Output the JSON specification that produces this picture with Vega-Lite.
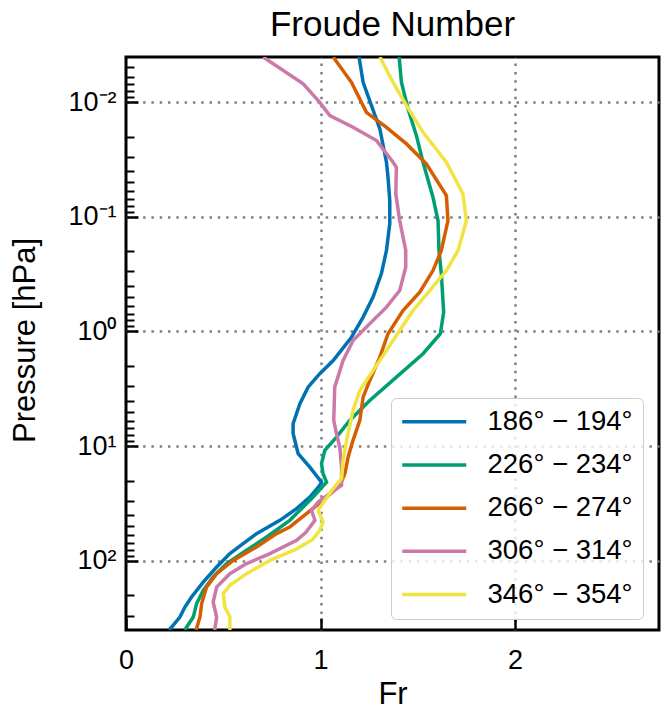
{
  "$schema": "https://vega.github.io/schema/vega-lite/v6.json",
  "autosize": {"type": "none"},
  "padding": {"left": 126, "top": 57, "right": 2, "bottom": 87},
  "width": 533,
  "height": 573,
  "background": "white",
  "title": {
    "text": "Froude Number",
    "font": "Liberation Sans",
    "fontSize": 35,
    "fontWeight": "normal",
    "color": "black",
    "anchor": "middle",
    "offset": 10
  },
  "config": {
    "view": {"stroke": "black", "strokeWidth": 3},
    "font": "Liberation Sans"
  },
  "datasets": {
    "profiles": [
      {"band": "186° − 194°", "fr": 1.198, "p": 0.00405},
      {"band": "186° − 194°", "fr": 1.219, "p": 0.00673},
      {"band": "186° − 194°", "fr": 1.262, "p": 0.01074},
      {"band": "186° − 194°", "fr": 1.305, "p": 0.01714},
      {"band": "186° − 194°", "fr": 1.339, "p": 0.0335},
      {"band": "186° − 194°", "fr": 1.347, "p": 0.0453},
      {"band": "186° − 194°", "fr": 1.356, "p": 0.0723},
      {"band": "186° − 194°", "fr": 1.356, "p": 0.1146},
      {"band": "186° − 194°", "fr": 1.339, "p": 0.1968},
      {"band": "186° − 194°", "fr": 1.313, "p": 0.3126},
      {"band": "186° − 194°", "fr": 1.27, "p": 0.502},
      {"band": "186° − 194°", "fr": 1.219, "p": 0.75},
      {"band": "186° − 194°", "fr": 1.159, "p": 1.122},
      {"band": "186° − 194°", "fr": 1.065, "p": 1.791},
      {"band": "186° − 194°", "fr": 0.996, "p": 2.333},
      {"band": "186° − 194°", "fr": 0.936, "p": 3.055},
      {"band": "186° − 194°", "fr": 0.894, "p": 4.266},
      {"band": "186° − 194°", "fr": 0.859, "p": 6.368},
      {"band": "186° − 194°", "fr": 0.859, "p": 7.745},
      {"band": "186° − 194°", "fr": 0.885, "p": 11.61},
      {"band": "186° − 194°", "fr": 0.945, "p": 15.21},
      {"band": "186° − 194°", "fr": 1.005, "p": 20.56},
      {"band": "186° − 194°", "fr": 0.996, "p": 21.93},
      {"band": "186° − 194°", "fr": 0.945, "p": 27.73},
      {"band": "186° − 194°", "fr": 0.877, "p": 34.99},
      {"band": "186° − 194°", "fr": 0.791, "p": 44.26},
      {"band": "186° − 194°", "fr": 0.671, "p": 57.81},
      {"band": "186° − 194°", "fr": 0.602, "p": 70.63},
      {"band": "186° − 194°", "fr": 0.534, "p": 86.3},
      {"band": "186° − 194°", "fr": 0.466, "p": 113.0},
      {"band": "186° − 194°", "fr": 0.397, "p": 152.8},
      {"band": "186° − 194°", "fr": 0.337, "p": 206.1},
      {"band": "186° − 194°", "fr": 0.303, "p": 252.3},
      {"band": "186° − 194°", "fr": 0.277, "p": 308.3},
      {"band": "186° − 194°", "fr": 0.235, "p": 376.7},
      {"band": "186° − 194°", "fr": 0.221, "p": 400},

      {"band": "226° − 234°", "fr": 1.404, "p": 0.00405},
      {"band": "226° − 234°", "fr": 1.416, "p": 0.00673},
      {"band": "226° − 234°", "fr": 1.45, "p": 0.01148},
      {"band": "226° − 234°", "fr": 1.493, "p": 0.01963},
      {"band": "226° − 234°", "fr": 1.527, "p": 0.0335},
      {"band": "226° − 234°", "fr": 1.578, "p": 0.0676},
      {"band": "226° − 234°", "fr": 1.604, "p": 0.1079},
      {"band": "226° − 234°", "fr": 1.609, "p": 0.1968},
      {"band": "226° − 234°", "fr": 1.621, "p": 0.3126},
      {"band": "226° − 234°", "fr": 1.633, "p": 0.6792},
      {"band": "226° − 234°", "fr": 1.616, "p": 1.047},
      {"band": "226° − 234°", "fr": 1.527, "p": 1.563},
      {"band": "226° − 234°", "fr": 1.39, "p": 2.5},
      {"band": "226° − 234°", "fr": 1.253, "p": 3.99},
      {"band": "226° − 234°", "fr": 1.15, "p": 5.957},
      {"band": "226° − 234°", "fr": 1.082, "p": 8.337},
      {"band": "226° − 234°", "fr": 1.022, "p": 10.89},
      {"band": "226° − 234°", "fr": 1.005, "p": 14.19},
      {"band": "226° − 234°", "fr": 1.013, "p": 17.38},
      {"band": "226° − 234°", "fr": 1.031, "p": 20.56},
      {"band": "226° − 234°", "fr": 0.962, "p": 27.73},
      {"band": "226° − 234°", "fr": 0.894, "p": 36.22},
      {"band": "226° − 234°", "fr": 0.842, "p": 44.26},
      {"band": "226° − 234°", "fr": 0.723, "p": 61.8},
      {"band": "226° − 234°", "fr": 0.62, "p": 80.72},
      {"band": "226° − 234°", "fr": 0.517, "p": 105.4},
      {"band": "226° − 234°", "fr": 0.448, "p": 138.0},
      {"band": "226° − 234°", "fr": 0.397, "p": 180.3},
      {"band": "226° − 234°", "fr": 0.363, "p": 235.5},
      {"band": "226° − 234°", "fr": 0.346, "p": 308.3},
      {"band": "226° − 234°", "fr": 0.312, "p": 376.7},
      {"band": "226° − 234°", "fr": 0.303, "p": 400},

      {"band": "266° − 274°", "fr": 1.065, "p": 0.00405},
      {"band": "266° − 274°", "fr": 1.159, "p": 0.00673},
      {"band": "266° − 274°", "fr": 1.236, "p": 0.0123},
      {"band": "266° − 274°", "fr": 1.339, "p": 0.0166},
      {"band": "266° − 274°", "fr": 1.442, "p": 0.02317},
      {"band": "266° − 274°", "fr": 1.544, "p": 0.03459},
      {"band": "266° − 274°", "fr": 1.647, "p": 0.0653},
      {"band": "266° − 274°", "fr": 1.655, "p": 0.1079},
      {"band": "266° − 274°", "fr": 1.621, "p": 0.1968},
      {"band": "266° − 274°", "fr": 1.578, "p": 0.2944},
      {"band": "266° − 274°", "fr": 1.51, "p": 0.4539},
      {"band": "266° − 274°", "fr": 1.424, "p": 0.6561},
      {"band": "266° − 274°", "fr": 1.347, "p": 1.047},
      {"band": "266° − 274°", "fr": 1.305, "p": 1.675},
      {"band": "266° − 274°", "fr": 1.253, "p": 2.673},
      {"band": "266° − 274°", "fr": 1.219, "p": 3.733},
      {"band": "266° − 274°", "fr": 1.202, "p": 5.957},
      {"band": "266° − 274°", "fr": 1.167, "p": 8.892},
      {"band": "266° − 274°", "fr": 1.142, "p": 12.45},
      {"band": "266° − 274°", "fr": 1.125, "p": 17.38},
      {"band": "266° − 274°", "fr": 1.099, "p": 21.93},
      {"band": "266° − 274°", "fr": 1.013, "p": 29.65},
      {"band": "266° − 274°", "fr": 0.928, "p": 38.73},
      {"band": "266° − 274°", "fr": 0.842, "p": 50.58},
      {"band": "266° − 274°", "fr": 0.774, "p": 57.81},
      {"band": "266° − 274°", "fr": 0.671, "p": 75.51},
      {"band": "266° − 274°", "fr": 0.551, "p": 98.86},
      {"band": "266° − 274°", "fr": 0.466, "p": 129.1},
      {"band": "266° − 274°", "fr": 0.414, "p": 169.0},
      {"band": "266° − 274°", "fr": 0.389, "p": 235.5},
      {"band": "266° − 274°", "fr": 0.38, "p": 308.3},
      {"band": "266° − 274°", "fr": 0.363, "p": 386.4},
      {"band": "266° − 274°", "fr": 0.36, "p": 400},

      {"band": "306° − 314°", "fr": 0.705, "p": 0.00405},
      {"band": "306° − 314°", "fr": 0.911, "p": 0.00695},
      {"band": "306° − 314°", "fr": 0.996, "p": 0.01007},
      {"band": "306° − 314°", "fr": 1.048, "p": 0.01312},
      {"band": "306° − 314°", "fr": 1.167, "p": 0.0166},
      {"band": "306° − 314°", "fr": 1.288, "p": 0.02168},
      {"band": "306° − 314°", "fr": 1.373, "p": 0.0335},
      {"band": "306° − 314°", "fr": 1.39, "p": 0.03707},
      {"band": "306° − 314°", "fr": 1.387, "p": 0.0632},
      {"band": "306° − 314°", "fr": 1.407, "p": 0.1079},
      {"band": "306° − 314°", "fr": 1.438, "p": 0.1968},
      {"band": "306° − 314°", "fr": 1.438, "p": 0.2754},
      {"band": "306° − 314°", "fr": 1.407, "p": 0.4395},
      {"band": "306° − 314°", "fr": 1.339, "p": 0.6138},
      {"band": "306° − 314°", "fr": 1.253, "p": 0.857},
      {"band": "306° − 314°", "fr": 1.167, "p": 1.197},
      {"band": "306° − 314°", "fr": 1.116, "p": 1.791},
      {"band": "306° − 314°", "fr": 1.073, "p": 3.055},
      {"band": "306° − 314°", "fr": 1.068, "p": 5.957},
      {"band": "306° − 314°", "fr": 1.082, "p": 7.78},
      {"band": "306° − 314°", "fr": 1.099, "p": 10.19},
      {"band": "306° − 314°", "fr": 1.108, "p": 15.21},
      {"band": "306° − 314°", "fr": 1.108, "p": 21.93},
      {"band": "306° − 314°", "fr": 1.057, "p": 25.12},
      {"band": "306° − 314°", "fr": 0.988, "p": 30.69},
      {"band": "306° − 314°", "fr": 0.954, "p": 36.22},
      {"band": "306° − 314°", "fr": 0.971, "p": 44.26},
      {"band": "306° − 314°", "fr": 0.925, "p": 56.36},
      {"band": "306° − 314°", "fr": 0.877, "p": 66.07},
      {"band": "306° − 314°", "fr": 0.74, "p": 86.3},
      {"band": "306° − 314°", "fr": 0.62, "p": 105.4},
      {"band": "306° − 314°", "fr": 0.534, "p": 129.1},
      {"band": "306° − 314°", "fr": 0.466, "p": 169.0},
      {"band": "306° − 314°", "fr": 0.448, "p": 228.0},
      {"band": "306° − 314°", "fr": 0.466, "p": 308.3},
      {"band": "306° − 314°", "fr": 0.457, "p": 386.4},
      {"band": "306° − 314°", "fr": 0.457, "p": 400},

      {"band": "346° − 354°", "fr": 1.305, "p": 0.00405},
      {"band": "346° − 354°", "fr": 1.373, "p": 0.00673},
      {"band": "346° − 354°", "fr": 1.442, "p": 0.01074},
      {"band": "346° − 354°", "fr": 1.527, "p": 0.01837},
      {"band": "346° − 354°", "fr": 1.647, "p": 0.0335},
      {"band": "346° − 354°", "fr": 1.732, "p": 0.0632},
      {"band": "346° − 354°", "fr": 1.75, "p": 0.1079},
      {"band": "346° − 354°", "fr": 1.707, "p": 0.1968},
      {"band": "346° − 354°", "fr": 1.647, "p": 0.2944},
      {"band": "346° − 354°", "fr": 1.561, "p": 0.4395},
      {"band": "346° − 354°", "fr": 1.476, "p": 0.6561},
      {"band": "346° − 354°", "fr": 1.407, "p": 0.979},
      {"band": "346° − 354°", "fr": 1.339, "p": 1.466},
      {"band": "346° − 354°", "fr": 1.27, "p": 2.188},
      {"band": "346° − 354°", "fr": 1.202, "p": 3.266},
      {"band": "346° − 354°", "fr": 1.167, "p": 4.875},
      {"band": "346° − 354°", "fr": 1.134, "p": 8.892},
      {"band": "346° − 354°", "fr": 1.116, "p": 13.3},
      {"band": "346° − 354°", "fr": 1.108, "p": 19.19},
      {"band": "346° − 354°", "fr": 1.065, "p": 23.44},
      {"band": "346° − 354°", "fr": 1.022, "p": 29.65},
      {"band": "346° − 354°", "fr": 0.988, "p": 36.22},
      {"band": "346° − 354°", "fr": 1.013, "p": 45.81},
      {"band": "346° − 354°", "fr": 0.996, "p": 54.08},
      {"band": "346° − 354°", "fr": 0.96, "p": 64.9},
      {"band": "346° − 354°", "fr": 0.873, "p": 79.3},
      {"band": "346° − 354°", "fr": 0.74, "p": 98.86},
      {"band": "346° − 354°", "fr": 0.62, "p": 129.1},
      {"band": "346° − 354°", "fr": 0.534, "p": 163.3},
      {"band": "346° − 354°", "fr": 0.5, "p": 192.8},
      {"band": "346° − 354°", "fr": 0.508, "p": 252.3},
      {"band": "346° − 354°", "fr": 0.534, "p": 308.3},
      {"band": "346° − 354°", "fr": 0.534, "p": 386.4},
      {"band": "346° − 354°", "fr": 0.534, "p": 400}
    ]
  },
  "data": {"name": "profiles"},
  "mark": {"type": "line", "strokeWidth": 3.5, "clip": true},
  "encoding": {
    "x": {
      "field": "fr",
      "type": "quantitative",
      "scale": {"domain": [0, 2.74], "nice": false, "zero": false},
      "axis": {
        "title": "Fr",
        "values": [0, 1, 2],
        "format": "d",
        "domain": false,
        "labelFont": "Liberation Sans",
        "labelFontSize": 27,
        "labelColor": "black",
        "labelFlush": false,
        "labelOverlap": false,
        "labelPadding": 29,
        "tickSize": -12,
        "tickWidth": 2.5,
        "tickColor": "black",
        "grid": true,
        "gridColor": "#808080",
        "gridDash": [2.5, 5.8],
        "gridWidth": 2.5,
        "gridOpacity": {"condition": {"test": "datum.value == 0", "value": 0}, "value": 1},
        "titleFont": "Liberation Sans",
        "titleFontSize": 31,
        "titleFontWeight": "normal",
        "titleColor": "black",
        "titleBaseline": "alphabetic",
        "titleY": 73
      }
    },
    "y": {
      "field": "p",
      "type": "quantitative",
      "scale": {"type": "log", "domain": [0.00405, 400], "reverse": true, "nice": false},
      "axis": {
        "title": "Pressure [hPa]",
        "values": [0.005, 0.006, 0.007, 0.008, 0.009, 0.01, 0.02, 0.03, 0.04, 0.05, 0.06, 0.07, 0.08, 0.09, 0.1, 0.2, 0.3, 0.4, 0.5, 0.6, 0.7, 0.8, 0.9, 1, 2, 3, 4, 5, 6, 7, 8, 9, 10, 20, 30, 40, 50, 60, 70, 80, 90, 100, 200, 300],
        "labelExpr": "datum.value == 0.01 ? '10⁻²' : datum.value == 0.1 ? '10⁻¹' : datum.value == 1 ? '10⁰' : datum.value == 10 ? '10¹' : datum.value == 100 ? '10²' : ''",
        "domain": false,
        "labelFont": "Liberation Sans",
        "labelFontSize": 27,
        "labelColor": "black",
        "labelFlush": false,
        "labelOverlap": false,
        "labelPadding": 22,
        "tickColor": "black",
        "tickSize": {"condition": {"test": "datum.value == 0.01 || datum.value == 0.1 || datum.value == 1 || datum.value == 10 || datum.value == 100", "value": -12}, "value": -8},
        "tickWidth": {"condition": {"test": "datum.value == 0.01 || datum.value == 0.1 || datum.value == 1 || datum.value == 10 || datum.value == 100", "value": 2.5}, "value": 2},
        "grid": true,
        "gridColor": "#808080",
        "gridDash": [2.5, 5.8],
        "gridWidth": 2.5,
        "gridOpacity": {"condition": {"test": "datum.value == 0.01 || datum.value == 0.1 || datum.value == 1 || datum.value == 10 || datum.value == 100", "value": 1}, "value": 0},
        "titleFont": "Liberation Sans",
        "titleFontSize": 31,
        "titleFontWeight": "normal",
        "titleColor": "black",
        "titleAngle": -90,
        "titleAlign": "center",
        "titleBaseline": "alphabetic",
        "titleX": -92,
        "titleY": 283
      }
    },
    "color": {
      "field": "band",
      "type": "nominal",
      "scale": {
        "domain": ["186° − 194°", "226° − 234°", "266° − 274°", "306° − 314°", "346° − 354°"],
        "range": ["#0072B2", "#009E73", "#D55E00", "#CC79A7", "#F0E442"]
      },
      "legend": {
        "title": null,
        "orient": "none",
        "legendX": 265,
        "legendY": 341,
        "symbolType": "M-1.25,0H5.15",
        "symbolSize": 400,
        "symbolStrokeWidth": 3.5,
        "labelFont": "Liberation Sans",
        "labelFontSize": 27.5,
        "labelColor": "black",
        "labelOffset": 59,
        "labelLimit": 300,
        "rowPadding": 14.2,
        "padding": 10,
        "fillColor": "rgba(255,255,255,0.8)",
        "strokeColor": "#cccccc",
        "cornerRadius": 5
      }
    },
    "order": {"value": null}
  }
}
